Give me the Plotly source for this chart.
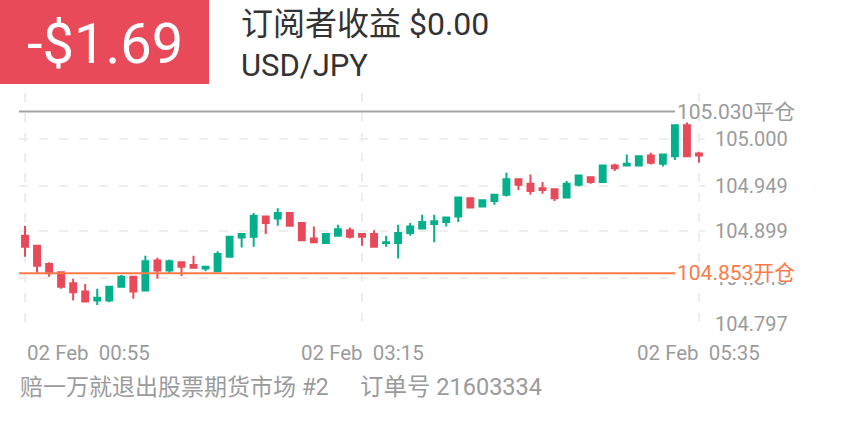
import plotly.graph_objects as go
import pandas as pd

# ---------------- data ----------------
START = "2021-02-02 00:55"
N_CANDLES = 57
TIMES = pd.date_range(START, periods=N_CANDLES, freq="5min")

OPEN = [104.894, 104.883, 104.863, 104.854, 104.842, 104.833, 104.823, 104.823, 104.838, 104.849,
        104.834, 104.867, 104.856, 104.865, 104.862, 104.858, 104.855, 104.871, 104.892, 104.893,
        104.915, 104.913, 104.919, 104.908, 104.891, 104.886, 104.894, 104.900, 104.896, 104.896,
        104.886, 104.886, 104.897, 104.902, 104.907, 104.909, 104.915, 104.935, 104.926, 104.932,
        104.939, 104.956, 104.951, 104.946, 104.945, 104.936, 104.950, 104.958, 104.953, 104.971,
        104.971, 104.971, 104.982, 104.973, 104.981, 105.015, 104.984]
HIGH = [104.905, 104.883, 104.865, 104.855, 104.847, 104.841, 104.836, 104.838, 104.851, 104.849,
        104.872, 104.870, 104.868, 104.865, 104.872, 104.860, 104.877, 104.894, 104.897, 104.919,
        104.915, 104.924, 104.920, 104.908, 104.904, 104.897, 104.906, 104.903, 104.896, 104.900,
        104.894, 104.906, 104.908, 104.917, 104.917, 104.914, 104.936, 104.936, 104.933, 104.939,
        104.963, 104.956, 104.961, 104.953, 104.945, 104.954, 104.960, 104.958, 104.971, 104.973,
        104.983, 104.981, 104.985, 104.983, 105.016, 105.018, 104.986]
LOW = [104.871, 104.853, 104.849, 104.836, 104.823, 104.821, 104.818, 104.821, 104.838, 104.825,
       104.834, 104.847, 104.853, 104.850, 104.859, 104.855, 104.855, 104.871, 104.881, 104.882,
       104.896, 104.905, 104.905, 104.889, 104.887, 104.885, 104.894, 104.891, 104.883, 104.882,
       104.882, 104.869, 104.894, 104.902, 104.887, 104.904, 104.909, 104.924, 104.925, 104.928,
       104.937, 104.944, 104.939, 104.940, 104.932, 104.936, 104.948, 104.951, 104.952, 104.965,
       104.971, 104.971, 104.972, 104.970, 104.977, 104.981, 104.974]
CLOSE = [104.882, 104.861, 104.853, 104.838, 104.832, 104.822, 104.826, 104.838, 104.849, 104.833,
         104.866, 104.856, 104.866, 104.860, 104.859, 104.860, 104.874, 104.893, 104.896, 104.916,
         104.908, 104.919, 104.905, 104.889, 104.887, 104.896, 104.901, 104.893, 104.893, 104.882,
         104.887, 104.897, 104.904, 104.909, 104.910, 104.914, 104.936, 104.925, 104.933, 104.939,
         104.956, 104.950, 104.943, 104.944, 104.935, 104.951, 104.960, 104.953, 104.971, 104.968,
         104.973, 104.981, 104.974, 104.983, 105.015, 104.981, 104.982]

OPEN_PRICE = 104.853
CLOSE_PRICE = 105.030
OPEN_LABEL = "104.853开仓"
CLOSE_LABEL = "105.030平仓"

Y_TICKS = [104.797, 104.848, 104.899, 104.949, 105.000, 105.050]
Y_TICK_TEXT = ["104.797", "104.848", "104.899", "104.949", "105.000", ""]
Y_RANGE = [104.7962, 105.0504]

X_TICKS = ["2021-02-02 00:55", "2021-02-02 03:15", "2021-02-02 05:35"]
X_TICK_TEXT = ["02 Feb\u00a0\u00a000:55", "02 Feb\u00a0\u00a003:15", "02 Feb\u00a0\u00a005:35"]
X_RANGE = ["2021-02-02 00:52:30", "2021-02-02 05:37:30"]

PNL_TEXT = "-$1.69"
TITLE_TEXT = "订阅者收益 $0.00"
SYMBOL_TEXT = "USD/JPY"
FOOTER_LEFT = "赔一万就退出股票期货市场 #2"
FOOTER_RIGHT = "订单号 21603334"

# ---------------- style ----------------
W, H = 844, 422
L, R, T, B = 19, 705, 93, 325  # plot area in pixels
GREEN = "#04b08c"
RED = "#e84a5a"
ORANGE = "#fb7a47"
GRAY_LINE = "#a3a3a3"
LABEL_GRAY = "#9b9b9b"
GRID = "#eeeeee"
FONT = "Roboto, Noto Sans CJK SC, sans-serif"


def px_x(x):
    return (x - L) / (R - L)


def px_y(y):
    return (B - y) / (B - T)


fig = go.Figure()
fig.add_trace(go.Candlestick(
    x=TIMES, open=OPEN, high=HIGH, low=LOW, close=CLOSE,
    increasing=dict(line=dict(color=GREEN, width=2), fillcolor=GREEN),
    decreasing=dict(line=dict(color=RED, width=2), fillcolor=RED),
    whiskerwidth=0, hoverinfo="skip", showlegend=False,
))

shapes = [
    dict(type="rect", xref="paper", yref="paper", x0=px_x(0), x1=px_x(209),
         y0=px_y(84), y1=px_y(0), fillcolor=RED, line=dict(width=0), layer="above"),
    dict(type="line", xref="paper", yref="y", x0=0, x1=px_x(675),
         y0=CLOSE_PRICE, y1=CLOSE_PRICE, line=dict(color=GRAY_LINE, width=2), layer="above"),
    dict(type="line", xref="paper", yref="y", x0=0, x1=px_x(675),
         y0=OPEN_PRICE, y1=OPEN_PRICE, line=dict(color=ORANGE, width=2), layer="above"),
    dict(type="rect", xref="paper", yref="paper", x0=px_x(676), x1=px_x(800),
         y0=px_y(282), y1=px_y(264), fillcolor="white", line=dict(width=0), layer="above"),
]

annotations = [
    dict(text=PNL_TEXT, xref="paper", yref="paper", x=px_x(105), y=px_y(44),
         xanchor="center", yanchor="middle", showarrow=False,
         font=dict(family=FONT, size=56, color="white")),
    dict(text=TITLE_TEXT, xref="paper", yref="paper", x=px_x(239), y=px_y(24),
         xanchor="left", yanchor="middle", showarrow=False,
         font=dict(family=FONT, size=32, color="#333333")),
    dict(text=SYMBOL_TEXT, xref="paper", yref="paper", x=px_x(239), y=px_y(65),
         xanchor="left", yanchor="middle", showarrow=False,
         font=dict(family=FONT, size=31, color="#333333")),
    dict(text=CLOSE_LABEL, xref="paper", yref="y", x=px_x(675), y=CLOSE_PRICE,
         xanchor="left", yanchor="middle", showarrow=False,
         font=dict(family=FONT, size=21, color=LABEL_GRAY)),
    dict(text=OPEN_LABEL, xref="paper", yref="y", x=px_x(675), y=OPEN_PRICE,
         xanchor="left", yanchor="middle", showarrow=False,
         font=dict(family=FONT, size=21, color=ORANGE)),
    dict(text=FOOTER_LEFT, xref="paper", yref="paper", x=px_x(18), y=px_y(387),
         xanchor="left", yanchor="middle", showarrow=False,
         font=dict(family=FONT, size=23, color=LABEL_GRAY)),
    dict(text=FOOTER_RIGHT, xref="paper", yref="paper", x=px_x(358), y=px_y(387),
         xanchor="left", yanchor="middle", showarrow=False,
         font=dict(family=FONT, size=23.5, color=LABEL_GRAY)),
]
for i, (tv, tt) in enumerate(zip(X_TICKS, X_TICK_TEXT)):
    annotations.append(dict(
        text=tt, xref="x", yref="paper", x=tv, y=px_y(353),
        xanchor="left" if i == 0 else "center", yanchor="middle", showarrow=False,
        font=dict(family=FONT, size=20.5, color=LABEL_GRAY)))

fig.update_layout(
    width=W, height=H,
    margin=dict(l=L, r=W - R, t=T, b=H - B, pad=0),
    paper_bgcolor="white", plot_bgcolor="white",
    shapes=shapes, annotations=annotations,
    boxgap=0.3,
    hovermode=False,
    xaxis=dict(
        type="date", range=X_RANGE, rangeslider=dict(visible=False),
        tickvals=X_TICKS, showticklabels=False, ticks="",
        showgrid=True, gridcolor=GRID, gridwidth=2, griddash="9px,11px",
        showline=False, zeroline=False, fixedrange=True,
    ),
    yaxis=dict(
        side="right", range=Y_RANGE, tickvals=Y_TICKS, ticktext=Y_TICK_TEXT,
        ticks="", ticklabelstandoff=9,
        tickfont=dict(family=FONT, size=20, color=LABEL_GRAY),
        showgrid=True, gridcolor=GRID, gridwidth=2, griddash="9px,11px",
        showline=False, zeroline=False, fixedrange=True,
    ),
)

fig.write_html("out.html", config={"displayModeBar": False},
               post_script="document.body.style.margin='0';document.body.style.padding='0';")
